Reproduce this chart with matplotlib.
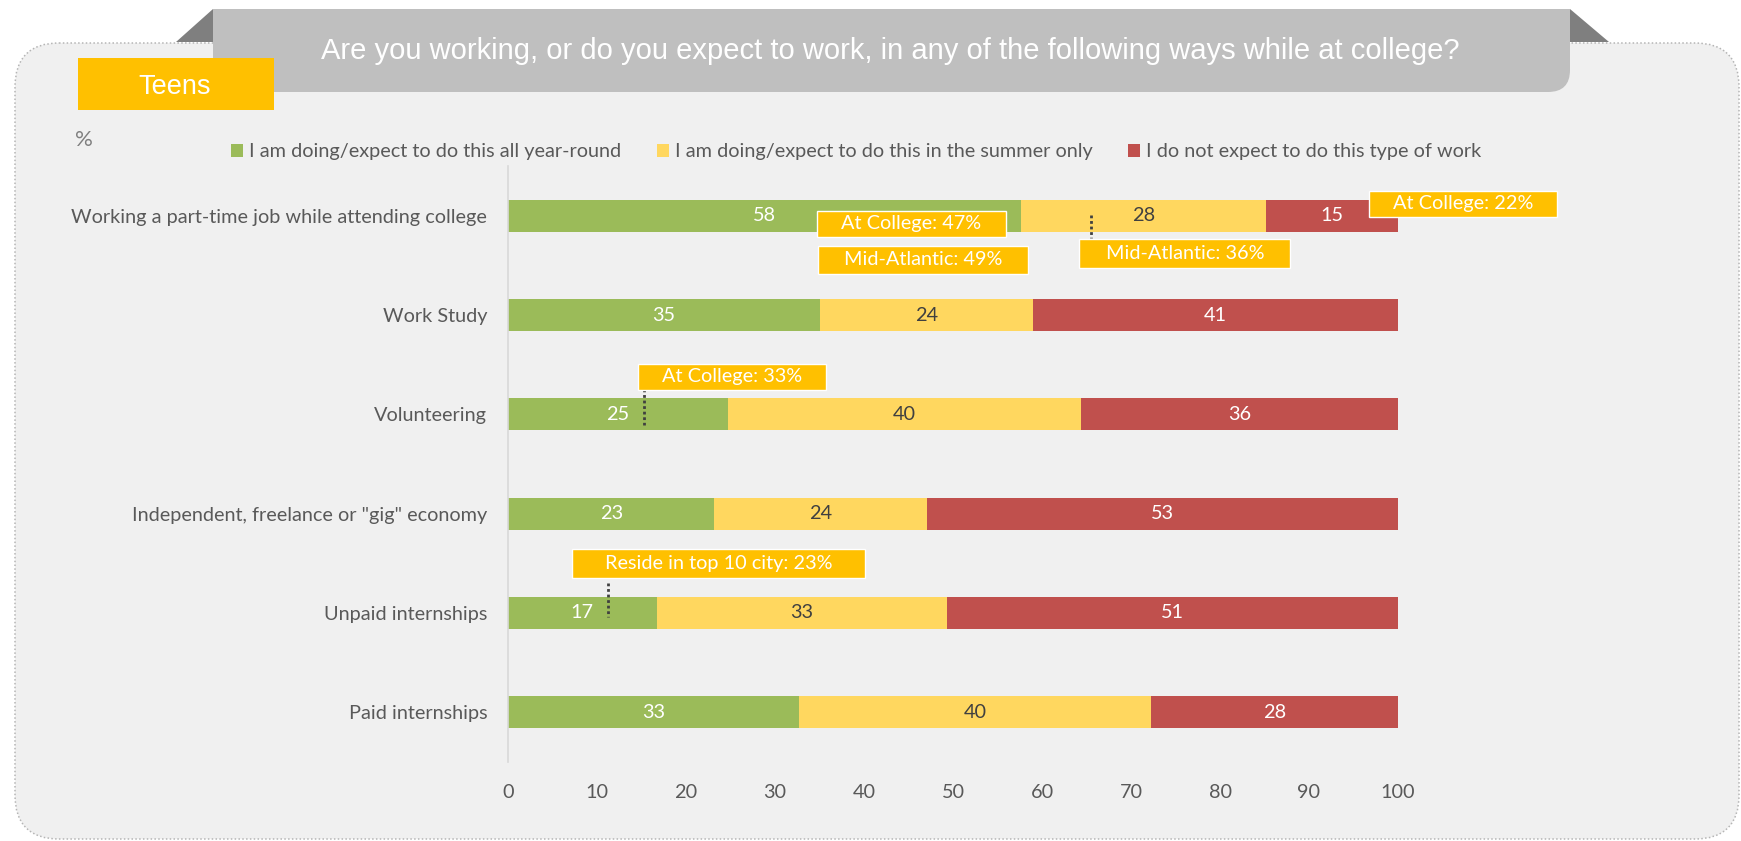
import numpy as np
import matplotlib.pyplot as plt
from matplotlib.patches import FancyBboxPatch, Rectangle, Polygon, PathPatch
from matplotlib.path import Path

categories = [
    "Working a part-time job while attending college",
    "Work Study",
    "Volunteering",
    'Independent, freelance or "gig" economy',
    "Unpaid internships",
    "Paid internships",
]
year_round = [57.6, 35.0, 24.7, 23.2, 16.7, 32.7]
summer_only = [27.6, 24.0, 39.7, 23.9, 32.6, 39.6]
not_expected = [14.8, 41.0, 35.6, 52.9, 50.7, 27.7]
series_names = [
    "I am doing/expect to do this all year-round",
    "I am doing/expect to do this in the summer only",
    "I do not expect to do this type of work",
]
x_ticks = [0, 10, 20, 30, 40, 50, 60, 70, 80, 90, 100]

callout_texts = [
    "At College: 47%",
    "Mid-Atlantic: 49%",
    "Mid-Atlantic: 36%",
    "At College: 22%",
    "At College: 33%",
    "Reside in top 10 city: 23%",
]
# box (x0, x1, y0, y1) in data units; optional dotted leader (x, y0, y1)
callout_boxes = [
    (34.7, 55.9, -0.05, 0.215),
    (34.8, 58.4, 0.305, 0.587),
    (64.2, 87.9, 0.235, 0.527),
    (96.7, 117.9, -0.248, 0.013),
    (14.6, 35.7, 1.493, 1.755),
    (7.2, 40.1, 3.356, 3.648),
]
callout_leaders = [None, None, (65.5, -0.01, 0.225), None,
                   (15.3, 1.745, 2.107), (11.2, 3.698, 4.04)]

GREEN = "#9BBB59"
YELLOW = "#FFD75F"
RED = "#C0504D"
ORANGE = "#FFC000"
TEXT = "#595959"
BODY_FONT = "Lato"
HEAD_FONT = "Liberation Sans"
FS = 14.3

W, H = 1741, 841
fig = plt.figure(figsize=(W / 100, H / 100), dpi=100)
fig.patch.set_facecolor("white")

# pixel-space layer for the frame, header and tag
bg = fig.add_axes([0, 0, 1, 1], zorder=0)
bg.set_xlim(0, W)
bg.set_ylim(H, 0)
bg.axis("off")

bg.add_patch(FancyBboxPatch((15, 43), 1724, 796,
                            boxstyle="round,pad=0,rounding_size=44",
                            fc="#f0f0f0", ec="#b5b5b5", lw=1.1,
                            ls=(0, (1, 1.5))))
bg.add_patch(Polygon([(213, 9), (213, 42), (176, 42)], closed=True,
                     fc="#7f7f7f", ec="none"))
bg.add_patch(Polygon([(1570, 9), (1570, 42), (1609, 42)], closed=True,
                     fc="#7f7f7f", ec="none"))
header = Path([(213, 9), (1570, 9), (1570, 70), (1570, 92), (1548, 92),
               (213, 92), (213, 9)],
              [Path.MOVETO, Path.LINETO, Path.LINETO, Path.CURVE3,
               Path.CURVE3, Path.LINETO, Path.CLOSEPOLY])
bg.add_patch(PathPatch(header, fc="#bfbfbf", ec="none"))
bg.text(890, 59, "Are you working, or do you expect to work, in any of the "
        "following ways while at college?", color="white", fontsize=21,
        family=HEAD_FONT, ha="center", va="baseline")

bg.add_patch(Rectangle((78, 58), 196, 52, fc=ORANGE, ec="none"))
bg.text(175, 94, "Teens", color="white", fontsize=19.5, family=HEAD_FONT,
        ha="center", va="baseline")
bg.text(75, 140, "%", color="#7f7f7f", fontsize=16, family=BODY_FONT,
        ha="left", va="center")

# main chart
ax = fig.add_axes([508 / W, 79 / H, 890 / W, 596 / H], zorder=1)
ax.patch.set_alpha(0)
y = np.arange(len(categories))
series = [year_round, summer_only, not_expected]
colors = [GREEN, YELLOW, RED]
label_colors = ["white", "#404040", "white"]
left = np.zeros(len(categories))
for vals, col, lc, name in zip(series, colors, label_colors, series_names):
    vals = np.array(vals)
    ax.barh(y, vals, left=left, height=0.32, color=col, label=name,
            edgecolor="none")
    for yi, l, v in zip(y, left, vals):
        ax.text(l + v / 2, yi, f"{v:.0f}", color=lc, fontsize=FS,
                family=BODY_FONT, ha="center", va="center")
    left += vals

ax.set_xlim(0, 100)
ax.set_ylim(5.5, -0.5)
ax.set_xticks(x_ticks)
ax.set_yticks(y)
ax.set_yticklabels(categories)
for lab in ax.get_xticklabels() + ax.get_yticklabels():
    lab.set_family(BODY_FONT)
    lab.set_fontsize(FS)
    lab.set_color(TEXT)
ax.tick_params(axis="x", length=0, pad=16)
ax.tick_params(axis="y", length=0, pad=15)
for side in ["top", "right", "bottom"]:
    ax.spines[side].set_visible(False)
ax.spines["left"].set_color("#d9d9d9")
ax.spines["left"].set_linewidth(1.2)

for txt, (x0, x1, y0, y1), lead in zip(callout_texts, callout_boxes,
                                       callout_leaders):
    if lead is not None:
        ax.plot([lead[0], lead[0]], [lead[1], lead[2]], color="#404040",
                lw=2, ls=(0, (1, 1)), zorder=4)
    ax.add_patch(Rectangle((x0, y0), x1 - x0, y1 - y0, fc=ORANGE,
                           ec="white", lw=1, zorder=5, clip_on=False))
    ax.text((x0 + x1) / 2, (y0 + y1) / 2, txt, color="white", fontsize=FS,
            family=BODY_FONT, ha="center", va="center", zorder=6,
            clip_on=False)

leg = ax.legend(loc="center left", bbox_to_anchor=(231 / W, (H - 152) / H),
                bbox_transform=fig.transFigure, ncol=3, frameon=False,
                borderpad=0, borderaxespad=0, handlelength=0.6,
                handleheight=0.6, handletextpad=0.3, columnspacing=1.8,
                prop={"family": BODY_FONT, "size": FS})
for t in leg.get_texts():
    t.set_color(TEXT)

fig.savefig("out.png", dpi=100)
